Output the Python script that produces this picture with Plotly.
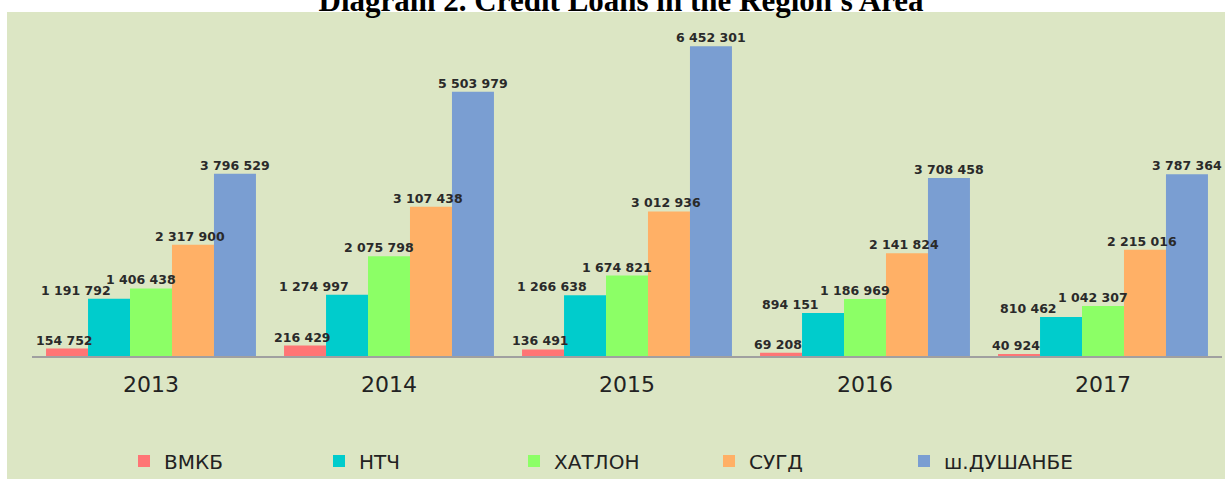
import plotly.graph_objects as go

years = ["2013", "2014", "2015", "2016", "2017"]
series_names = ["ВМКБ", "НТЧ", "ХАТЛОН", "СУГД", "ш.ДУШАНБЕ"]
vmkb = [154752, 216429, 136491, 69208, 40924]
ntch = [1191792, 1274997, 1266638, 894151, 810462]
khatlon = [1406438, 2075798, 1674821, 1186969, 1042307]
sugd = [2317900, 3107438, 3012936, 2141824, 2215016]
dushanbe = [3796529, 5503979, 6452301, 3708458, 3787364]
colors = ["#FF7575", "#00CCCC", "#8CFF66", "#FFB066", "#7A9ED2"]

title_text = "Diagram 2. Credit Loans in the Region's Area"

# layout constants (pixels)
W, H = 1225, 479
ML, MR, MT, MB = 32, 3, 20, 123
BARGAP = 0.118
plot_w = W - ML - MR
cat_w = plot_w / len(years)
bar_w = cat_w * (1 - BARGAP) / len(series_names)
label_nudge = [-3, -33, -10, -3, 0]  # label placement tweak per series


def fmt(v):
    return f"{v:,}".replace(",", " ")


all_series = [vmkb, ntch, khatlon, sugd, dushanbe]

fig = go.Figure()
annotations = []
for i, (name, vals, col) in enumerate(zip(series_names, all_series, colors)):
    fig.add_trace(go.Bar(
        name=name, x=years, y=vals,
        marker=dict(color=col, line=dict(width=0)),
    ))
    for j, v in enumerate(vals):
        # category axis: annotation x is the category index
        annotations.append(dict(
            x=j, y=v, xref="x", yref="y", text=fmt(v), showarrow=False,
            xanchor="center", yanchor="bottom",
            xshift=(i - 2) * bar_w + label_nudge[i], yshift=-1,
            font=dict(family="DejaVu Sans", size=12.5, color="#2A2A2A", weight="bold"),
        ))

fig.update_layout(
    width=W, height=H,
    margin=dict(l=ML, r=MR, t=MT, b=MB),
    paper_bgcolor="white",
    plot_bgcolor="rgba(0,0,0,0)",
    barmode="group",
    bargap=BARGAP,
    bargroupgap=0,
    title=dict(
        text="<b>" + title_text + "</b>",
        font=dict(family="Liberation Serif", size=31, color="black"),
        x=0.507, xanchor="center", xref="container",
        y=1.0, yanchor="middle", yref="container",
    ),
    xaxis=dict(
        type="category", range=[-0.5, len(years) - 0.5],
        showline=True, linecolor="#A0A0A0", linewidth=2,
        showgrid=False, ticks="", ticklabelstandoff=8,
        tickfont=dict(family="DejaVu Sans", size=22, color="#222222"),
    ),
    yaxis=dict(range=[0, 7000000], visible=False, showgrid=False),
    showlegend=True,
    legend=dict(
        orientation="h", xref="container", yref="container",
        x=124 / W, xanchor="left", y=1 - 461 / H, yanchor="middle",
        entrywidth=150, entrywidthmode="pixels",
        font=dict(family="DejaVu Sans", size=20, color="#222222"),
        bgcolor="rgba(0,0,0,0)", traceorder="normal",
    ),
    annotations=annotations,
    shapes=[dict(
        type="rect", xref="paper", yref="paper", layer="below",
        x0=-25 / plot_w, x1=1.01, y0=-MB / (H - MT - MB) - 0.01, y1=1 + 8 / (H - MT - MB),
        fillcolor="#DCE6C4", line=dict(width=0),
    )],
)

fig.write_html("out.html", config={"displayModeBar": False},
               post_script="document.body.style.margin='0';")
